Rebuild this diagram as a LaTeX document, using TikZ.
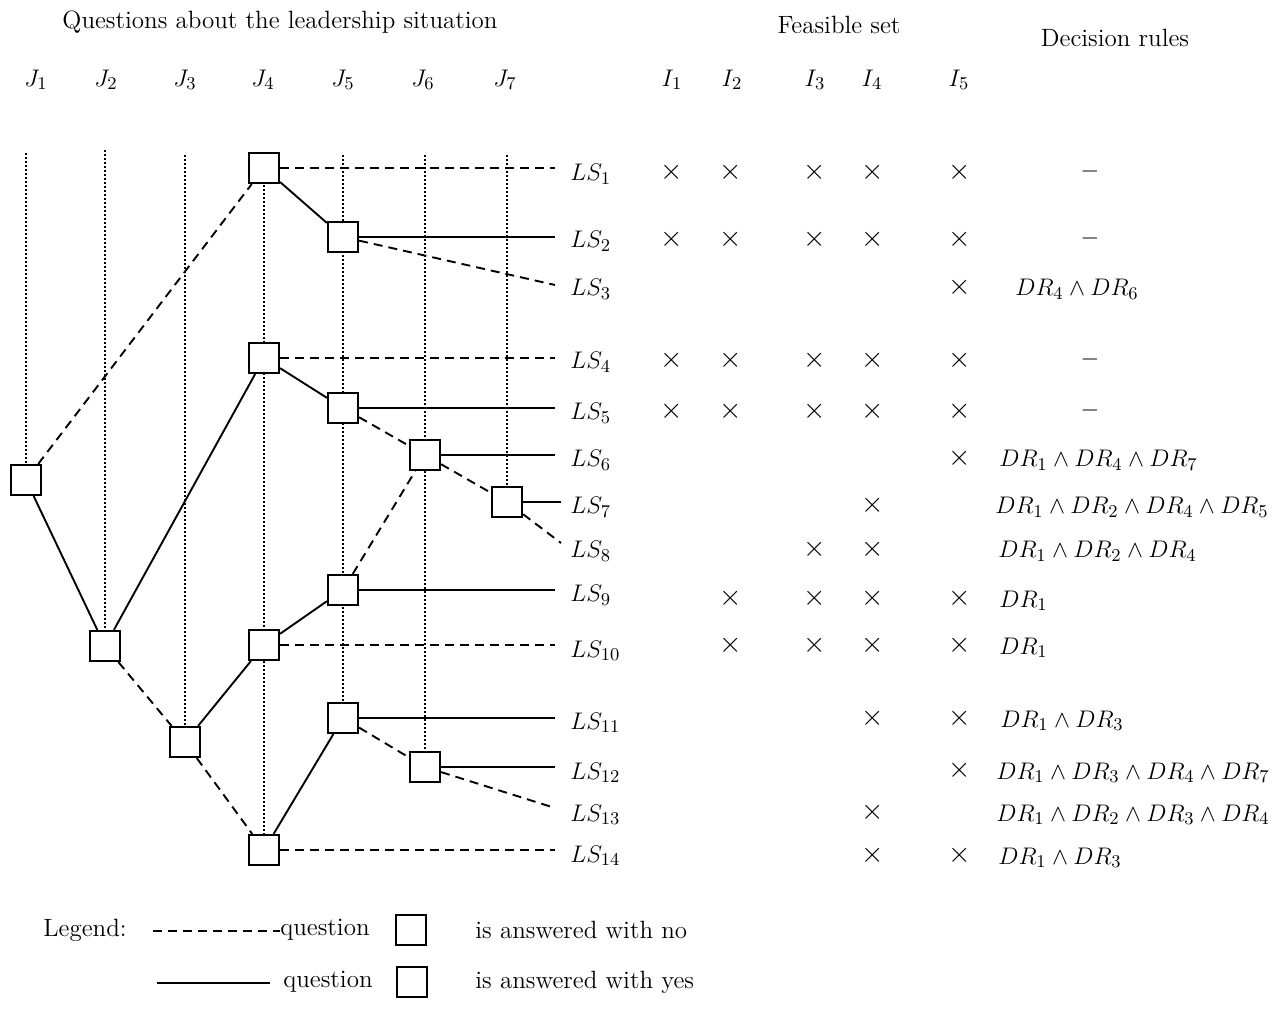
\documentclass[tikz,border=0pt]{standalone}
\usepackage{amsmath}
\usetikzlibrary{backgrounds}
\begin{document}
\begin{tikzpicture}[x=0.5pt,y=-0.5pt,
  qbox/.style={draw, line width=1.1pt, fill=white, minimum size=15pt, inner sep=0pt},
  yesln/.style={line width=0.95pt},
  noln/.style={line width=0.95pt, dash pattern=on 4.5pt off 3pt},
  guide/.style={line width=0.9pt, dash pattern=on 0.8pt off 1.2pt},
  txt/.style={font=\fontsize{12.5}{14}\selectfont, inner sep=0pt},
  lbl/.style={txt, anchor=base west},
  xm/.style={font=\fontsize{14}{16}\selectfont, inner sep=0pt},
  dr/.style={txt, anchor=base west}]
\useasboundingbox (0,0) rectangle (1279,1015);

% headings
\node[txt] (title) at (280,22) {Questions about the leadership situation};
\node[txt] (feas) at (839,25) {Feasible set};
\node[txt] (dec) at (1115,38) {Decision rules};

% column labels
\node[txt] (j1) at (36,80) {$J_1$};
\node[txt] (j2) at (106,80) {$J_2$};
\node[txt] (j3) at (185,80) {$J_3$};
\node[txt] (j4) at (263,80) {$J_4$};
\node[txt] (j5) at (343,80) {$J_5$};
\node[txt] (j6) at (423,80) {$J_6$};
\node[txt] (j7) at (505,80) {$J_7$};
\node[txt] (i1) at (672,80) {$I_1$};
\node[txt] (i2) at (732,80) {$I_2$};
\node[txt] (i3) at (815,80) {$I_3$};
\node[txt] (i4) at (872,80) {$I_4$};
\node[txt] (i5) at (959,80) {$I_5$};

% question boxes
\node[qbox] (a)  at (26,480) {};
\node[qbox] (b)  at (105,646) {};
\node[qbox] (c)  at (185,742) {};
\node[qbox] (b1) at (264,168) {};
\node[qbox] (b2) at (264,358) {};
\node[qbox] (b3) at (264,645) {};
\node[qbox] (b4) at (264,850) {};
\node[qbox] (c1) at (343,237) {};
\node[qbox] (c2) at (343,408) {};
\node[qbox] (c3) at (343,590) {};
\node[qbox] (c4) at (343,718) {};
\node[qbox] (d1) at (425,455) {};
\node[qbox] (d2) at (425,767) {};
\node[qbox] (e1) at (507,502) {};

% guide tops
\coordinate (t1) at (26,153);
\coordinate (t2) at (105,150);
\coordinate (t3) at (185,155);
\coordinate (t4) at (264,153);
\coordinate (t5) at (343,155);
\coordinate (t6) at (425,155);
\coordinate (t7) at (507,155);
\begin{scope}[on background layer]
\draw[guide] (t1) -- (a.center);
\draw[guide] (t2) -- (b.center);
\draw[guide] (t3) -- (c.center);
\draw[guide] (t4) -- (b4.center);
\draw[guide] (t5) -- (c4.center);
\draw[guide] (t6) -- (d2.center);
\draw[guide] (t7) -- (e1.center);
\end{scope}

% line ends
\coordinate (l1) at (555,168);
\coordinate (l2) at (555,237);
\coordinate (l3) at (555,285);
\coordinate (l4) at (555,358);
\coordinate (l5) at (555,408);
\coordinate (l6) at (555,455);
\coordinate (l7) at (561,502);
\coordinate (l8) at (561,543);
\coordinate (l9) at (555,590);
\coordinate (l10) at (555,645);
\coordinate (l11) at (555,718);
\coordinate (l12) at (555,767);
\coordinate (l13) at (555,808);
\coordinate (l14) at (555,850);

% connectors
\draw[noln] (a) -- (b1);
\draw[yesln] (a) -- (b);
\draw[noln] (b1.east) -- (l1);
\draw[yesln] (b1) -- (c1);
\draw[yesln] (c1.east) -- (l2);
\draw[noln] (c1) -- (l3);
\draw[yesln] (b) -- (b2);
\draw[noln] (b) -- (c);
\draw[noln] (b2.east) -- (l4);
\draw[yesln] (b2) -- (c2);
\draw[yesln] (c2.east) -- (l5);
\draw[noln] (c2) -- (d1);
\draw[yesln] (d1.east) -- (l6);
\draw[noln] (d1) -- (e1);
\draw[yesln] (e1.east) -- (l7);
\draw[noln] (e1) -- (l8);
\draw[yesln] (c) -- (b3);
\draw[noln] (c) -- (b4);
\draw[yesln] (b3) -- (c3);
\draw[noln] (b3.east) -- (l10);
\draw[yesln] (c3.east) -- (l9);
\draw[noln] (c3) -- (d1);
\draw[yesln] (b4) -- (c4);
\draw[noln] (b4.east) -- (l14);
\draw[yesln] (c4.east) -- (l11);
\draw[noln] (c4) -- (d2);
\draw[yesln] (d2.east) -- (l12);
\draw[noln] (d2) -- (l13);

% leaf labels
\node[lbl] (s1) at (570,181) {$LS_{1}$};
\node[lbl] (s2) at (570,248) {$LS_{2}$};
\node[lbl] (s3) at (570,296) {$LS_{3}$};
\node[lbl] (s4) at (570,369) {$LS_{4}$};
\node[lbl] (s5) at (570,420) {$LS_{5}$};
\node[lbl] (s6) at (570,467) {$LS_{6}$};
\node[lbl] (s7) at (570,514) {$LS_{7}$};
\node[lbl] (s8) at (570,558) {$LS_{8}$};
\node[lbl] (s9) at (570,602) {$LS_{9}$};
\node[lbl] (s10) at (570,657) {$LS_{10}$};
\node[lbl] (s11) at (570,729) {$LS_{11}$};
\node[lbl] (s12) at (570,779) {$LS_{12}$};
\node[lbl] (s13) at (570,821) {$LS_{13}$};
\node[lbl] (s14) at (570,862) {$LS_{14}$};

% feasible set crosses
\foreach \r/\cols in {172/{672,731,815,873,960}, 239/{672,731,815,873,960}, 287/{960},
  360/{672,731,815,873,960}, 411/{672,731,815,873,960}, 458/{960}, 505/{873},
  549/{815,873}, 598/{731,815,873,960}, 645/{731,815,873,960}, 718/{873,960},
  770/{960}, 812/{873}, 855/{873,960}} {
  \foreach \c in \cols { \node[xm] at (\c,\r) {$\times$}; }
}

% decision rules
\node[txt] (r1) at (1090,172) {$-$};
\node[txt] (r2) at (1090,239) {$-$};
\node[dr] (r3) at (1015,296) {$DR_4\wedge DR_6$};
\node[txt] (r4) at (1090,360) {$-$};
\node[txt] (r5) at (1090,411) {$-$};
\node[dr] (r6) at (999,467) {$DR_1\wedge DR_4\wedge DR_7$};
\node[dr] (r7) at (995,514) {$DR_1\wedge DR_2\wedge DR_4\wedge DR_5$};
\node[dr] (r8) at (998,558) {$DR_1\wedge DR_2\wedge DR_4$};
\node[dr] (r9) at (999,607) {$DR_1$};
\node[dr] (r10) at (999,654) {$DR_1$};
\node[dr] (r11) at (1000,727) {$DR_1\wedge DR_3$};
\node[dr] (r12) at (996,779) {$DR_1\wedge DR_3\wedge DR_4\wedge DR_7$};
\node[dr] (r13) at (996,821) {$DR_1\wedge DR_2\wedge DR_3\wedge DR_4$};
\node[dr] (r14) at (998,864) {$DR_1\wedge DR_3$};

% legend
\node[txt, anchor=west] (leg) at (43,930) {Legend:};
\coordinate (n0) at (153,931);
\node[txt, anchor=west] (q1) at (280,930) {question};
\draw[noln] (n0) -- (n0 -| q1.west);
\node[qbox] (lb1) at (411,930) {};
\node[txt, anchor=west] (no) at (475,930) {is answered with no};
\coordinate (y0) at (157,983);
\coordinate (y1) at (270,983);
\draw[yesln] (y0) -- (y1);
\node[txt, anchor=west] (q2) at (283,982) {question};
\node[qbox] (lb2) at (412,982) {};
\node[txt, anchor=west] (yes) at (475,982) {is answered with yes};
\end{tikzpicture}
\end{document}
